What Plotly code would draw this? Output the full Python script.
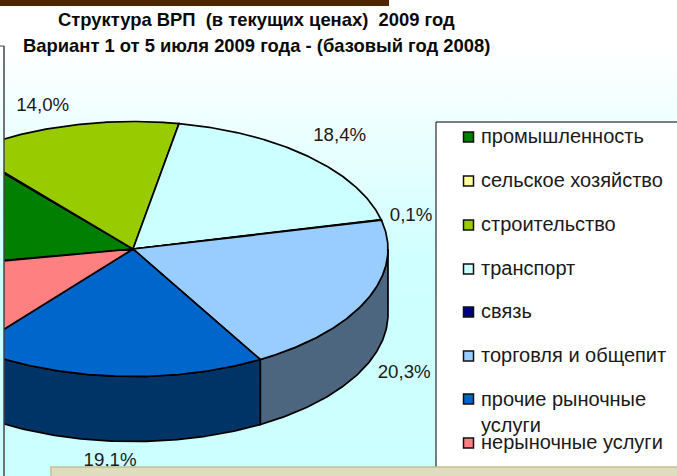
import numpy as np
import plotly.graph_objects as go

categories = ["промышленность", "сельское хозяйство", "строительство", "транспорт",
              "связь", "торговля и общепит", "прочие рыночные<br>услуги", "нерыночные услуги"]
values = [16.7, 0.1, 14.0, 18.4, 0.1, 20.3, 19.1, 11.3]
labels = ["16,7%", "0,1%", "14,0%", "18,4%", "0,1%", "20,3%", "19,1%", "11,3%"]
colors = ["#007F00", "#FFFF99", "#99CC00", "#CCFFFF", "#000080", "#99CCFF", "#0066CC", "#FF8080"]
side_colors = ["#004000", "#80804D", "#4D6600", "#668080", "#000040", "#4D6680", "#003366", "#804040"]
title_lines = ["Структура ВРП  (в текущих ценах)  2009 год",
               "Вариант 1 от 5 июля 2009 года - (базовый год 2008)"]

W, H = 677, 476
CX, CY, RX, RY, DEPTH = 133.0, 249.0, 255.0, 127.5, 65.0
START_DEG = 259.5
LABEL_R = [1.17, 1.17, 1.17, 1.2, 1.12, 1.16, 1.16, 1.17]
LABEL_DA = [0, 0, -2.8, -1, 0, 0, 0, 0]
FONT = "Liberation Sans"
INK = "#1a1a1a"

shares = np.array(values) / sum(values) * 360.0
edges = START_DEG + np.concatenate([[0], np.cumsum(shares)])


def ellipse(a_deg, dy=0.0):
    a = np.radians(a_deg)
    return CX + RX * np.sin(a), CY - RY * np.cos(a) + dy


fig = go.Figure()

# background gradient
fig.add_trace(go.Scatter(x=[0, W, W, 0, 0], y=[0, 0, H, H, 0], mode="lines", fill="toself",
                         line=dict(width=0), hoverinfo="skip", showlegend=False,
                         fillgradient=dict(type="vertical",
                                           colorscale=[[0, "#CCFFFF"], [0.45, "#CFFFFF"],
                                                       [0.9, "#FFFFFF"], [1, "#FFFFFF"]])))
# legend box
fig.add_trace(go.Scatter(x=[436, W + 5, W + 5, 436, 436], y=[122, 122, H + 5, H + 5, 122], mode="lines",
                         fill="toself", fillcolor="white", line=dict(color="black", width=1),
                         hoverinfo="skip", showlegend=False))

# side walls (only the front half of the ring is visible)
for i in range(len(values)):
    a0, a1 = edges[i], edges[i + 1]
    for k in (0, 360):
        lo, hi = max(a0 - k, 90), min(a1 - k, 270)
        if hi <= lo:
            continue
        t = np.linspace(lo, hi, 80)
        xt, yt = ellipse(t)
        xb, yb = ellipse(t[::-1], DEPTH)
        fig.add_trace(go.Scatter(x=np.r_[xt, xb, xt[0]], y=np.r_[yt, yb, yt[0]], mode="lines", fill="toself",
                                 fillcolor=side_colors[i], line=dict(color="black", width=1.7),
                                 xaxis="x2", yaxis="y2", hoverinfo="skip", showlegend=False))

# top slices
for i in range(len(values)):
    t = np.linspace(edges[i], edges[i + 1], max(3, int(shares[i] * 2)))
    xs, ys = ellipse(t)
    fig.add_trace(go.Scatter(x=np.r_[CX, xs, CX], y=np.r_[CY, ys, CY], mode="lines", fill="toself",
                             fillcolor=colors[i], line=dict(color="black", width=1.7),
                             xaxis="x2", yaxis="y2", name=categories[i], showlegend=False))

# data labels, placed from each slice's mid angle; those beyond the cropped left edge are not drawn
mid = (edges[:-1] + edges[1:]) / 2
a = np.radians(mid + np.array(LABEL_DA))
lx = CX + RX * np.array(LABEL_R) * np.sin(a)
ly = CY - RY * np.array(LABEL_R) * np.cos(a) + np.where(np.cos(a) < 0, DEPTH, 0)
keep = lx > 30
fig.add_trace(go.Scatter(x=lx[keep], y=ly[keep], mode="text", text=np.array(labels)[keep],
                         textposition="middle center", cliponaxis=True,
                         textfont=dict(family=FONT, size=18.7, color=INK),
                         xaxis="x2", yaxis="y2", hoverinfo="skip", showlegend=False))

# legend
legend_y = [137, 181, 225, 269, 312, 356, 399, 443]
fig.add_trace(go.Scatter(x=[468.5] * len(values), y=legend_y, mode="markers",
                         marker=dict(symbol="square", size=10, color=colors, line=dict(color="#111111", width=1.5)),
                         xaxis="x2", yaxis="y2", hoverinfo="skip", showlegend=False))
annotations = []
for name, y in zip(categories, legend_y):
    annotations.append(dict(x=478.5, y=y - 1, text=name, xref="x", yref="y", xanchor="left",
                            yanchor="top" if "<br>" in name else "middle",
                            yshift=12 if "<br>" in name else 0,
                            align="left", showarrow=False,
                            font=dict(family=FONT, size=20, color=INK)))
for line, y in zip(title_lines, [19, 45]):
    annotations.append(dict(x=256, y=y, text=f"<b>{line}</b>", xref="x", yref="y", showarrow=False,
                            font=dict(family=FONT, size=18.4, color="#0a0a0a")))

shapes = [
    dict(type="rect", xref="x", yref="y", x0=0, x1=389, y0=-2, y1=6, fillcolor="#4D2600", line=dict(width=0), layer="above"),
    dict(type="line", xref="x", yref="y", x0=4, x1=4, y0=46, y1=H, line=dict(color="#444444", width=1.5), layer="above"),
    dict(type="line", xref="x", yref="y", x0=0, x1=4, y0=46, y1=46, line=dict(color="#444444", width=1), layer="above"),
    dict(type="rect", xref="x", yref="y", x0=51, x1=W + 5, y0=467, y1=H + 5, fillcolor="#DFDDBF",
         line=dict(color="#C4C08F", width=1.5), layer="above"),
]

fig.update_layout(
    width=W, height=H, margin=dict(l=0, r=0, t=0, b=0), autosize=False,
    paper_bgcolor="white", plot_bgcolor="rgba(0,0,0,0)", showlegend=False,
    xaxis=dict(range=[0, W], domain=[0, 1], visible=False, fixedrange=True),
    yaxis=dict(range=[H, 0], domain=[0, 1], visible=False, fixedrange=True),
    xaxis2=dict(range=[4, W], domain=[4 / W, 1], visible=False, anchor="y2", fixedrange=True),
    yaxis2=dict(range=[467, 0], domain=[9 / H, 1], visible=False, anchor="x2", fixedrange=True),
    annotations=annotations, shapes=shapes,
)
fig.write_html("out.html", config=dict(displayModeBar=False),
               post_script="document.body.style.margin='0';document.body.style.overflow='hidden';")
